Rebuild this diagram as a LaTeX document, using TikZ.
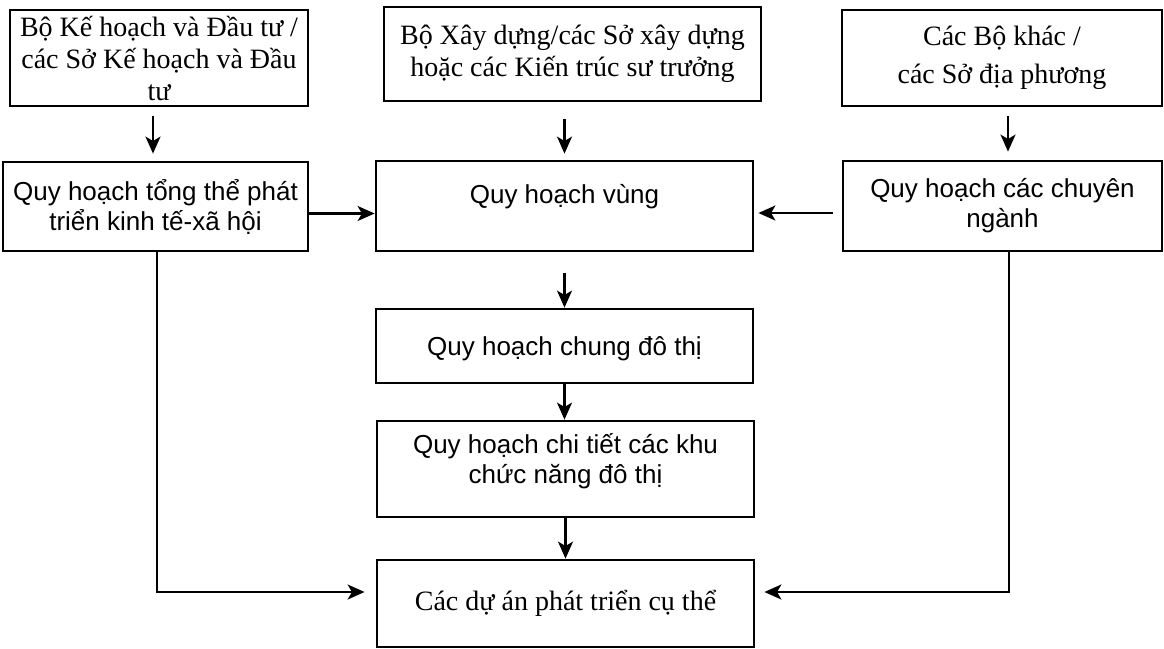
\documentclass[tikz,border=0pt]{standalone}
\usepackage{fontspec}
\setmainfont{Liberation Serif}
\setsansfont{Liberation Sans}
\usetikzlibrary{arrows.meta,calc}
\newcommand{\lift}[2]{\raisebox{#1}[\height][\depth]{#2}}

\begin{document}
\begin{tikzpicture}[x=.5pt,y=-.5pt,>={Stealth[length=8.5pt,width=7.5pt,inset=2.2pt]},
    box/.style={draw,line width=1.4pt,align=center,inner sep=0pt},
    org/.style={box,font=\fontsize{14}{16}\selectfont},
    plan/.style={box,font=\sffamily\fontsize{13}{15}\selectfont},
    link/.style={->,line width=1.1pt}]
    \useasboundingbox(0,0)rectangle(1164,649);
    % bodies in charge
    \node[org,minimum width=149pt,minimum height=48pt](moi)at(159,58){Bộ Kế hoạch và Đầu tư /\\các Sở Kế hoạch và Đầu\\tư};
    \node[org,minimum width=188.5pt,minimum height=47pt](moc)at(572.5,54){Bộ Xây dựng/các Sở xây dựng\\hoặc các Kiến trúc sư trưởng};
    \node[org,minimum width=160pt,minimum height=48pt](other)at(1002,58){Các Bộ khác /\\[3pt]các Sở địa phương};
    % plans
    \node[plan,minimum width=152.5pt,minimum height=44.5pt](socio)at(155.5,206.5){Quy hoạch tổng thể phát\\triển kinh tế-xã hội};
    \node[plan,minimum width=188.5pt,minimum height=45pt](region)at(564.5,206){\lift{4.5pt}{Quy hoạch vùng}};
    \node[plan,minimum width=159.5pt,minimum height=45pt](sector)at(1002.5,206){Quy hoạch các chuyên\\ngành};
    \node[plan,minimum width=188.5pt,minimum height=37pt](general)at(564.5,346){\lift{-1.5pt}{Quy hoạch chung đô thị}};
    \node[plan,minimum width=188.5pt,minimum height=48pt](detail)at(565.5,469){\lift{3.5pt}{\begin{tabular}{@{}c@{}}Quy hoạch chi tiết các khu\\chức năng đô thị\end{tabular}}};
    \node[org,minimum width=188.5pt,minimum height=43.5pt](project)at(565.5,603.5){Các dự án phát triển cụ thể};
    % links
    \draw[link,shorten <=4.5pt,shorten >=3.5pt]([xshift=-3pt]moi.south)--([xshift=-3pt]moi.south|-socio.north);
    \draw[link,shorten <=8.5pt,shorten >=3pt](moc.south-|region.north)--(region.north);
    \draw[link,shorten <=4.5pt,shorten >=4pt]([xshift=3pt]other.south)--([xshift=3pt]other.south|-sector.north);
    \draw[link]([yshift=-3.5pt]socio.east)--([yshift=-3.5pt]socio.east-|region.west);
    \draw[link,shorten <=4.5pt,shorten >=2pt]([yshift=-3.5pt]sector.west)--([yshift=-3.5pt]sector.west-|region.east);
    \draw[link,shorten <=10.5pt](region.south)--(general.north);
    \draw[link](general.south)--(general.south|-detail.north);
    \draw[link](detail.south)--(detail.south|-project.north);
    \draw[link,shorten >=5.5pt]([xshift=.75pt]socio.south)|-([yshift=5.75pt]project.west);
    \draw[link,shorten >=4.5pt]([xshift=3.25pt]sector.south)|-([yshift=5.75pt]project.east);
\end{tikzpicture}
\end{document}
